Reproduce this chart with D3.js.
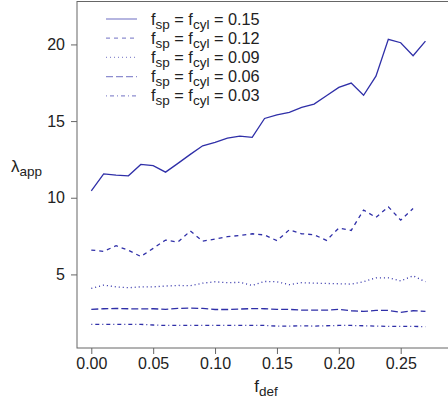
<!DOCTYPE html>
<html>
<head>
<meta charset="utf-8">
<script src="https://cdn.jsdelivr.net/npm/d3@7"></script>
<style>
  html, body { margin: 0; padding: 0; background: #fff; }
  svg { display: block; font-family: "Liberation Sans", Arial, Helvetica, sans-serif; }
</style>
</head>
<body>
<div id="chart"></div>
<script>
// Apparent wavelength versus defect fraction, one series per sphere/cylinder fraction
const fDef = [0.00, 0.01, 0.02, 0.03, 0.04, 0.05, 0.06, 0.07, 0.08, 0.09,
              0.10, 0.11, 0.12, 0.13, 0.14, 0.15, 0.16, 0.17, 0.18, 0.19,
              0.20, 0.21, 0.22, 0.23, 0.24, 0.25, 0.26, 0.27];

const lambda015 = [10.45, 11.56, 11.48, 11.43, 12.17, 12.09, 11.67, 12.24, 12.83, 13.39,
                   13.61, 13.89, 14.02, 13.94, 15.17, 15.40, 15.57, 15.89, 16.11, 16.65,
                   17.20, 17.48, 16.68, 17.93, 20.33, 20.11, 19.26, 20.22];
const lambda012 = [6.59, 6.50, 6.87, 6.57, 6.17, 6.70, 7.24, 7.11, 7.83, 7.17,
                   7.30, 7.46, 7.54, 7.65, 7.57, 7.20, 7.91, 7.65, 7.59, 7.22,
                   8.02, 7.87, 9.20, 8.72, 9.41, 8.54, 9.30];
const lambda009 = [4.09, 4.30, 4.19, 4.13, 4.19, 4.19, 4.24, 4.28, 4.26, 4.43,
                   4.52, 4.46, 4.48, 4.28, 4.54, 4.52, 4.33, 4.46, 4.43, 4.41,
                   4.39, 4.37, 4.52, 4.78, 4.78, 4.57, 4.91, 4.52];
const lambda006 = [2.72, 2.76, 2.78, 2.76, 2.75, 2.76, 2.72, 2.78, 2.80, 2.78,
                   2.71, 2.71, 2.74, 2.77, 2.76, 2.72, 2.72, 2.67, 2.67, 2.67,
                   2.72, 2.63, 2.59, 2.65, 2.65, 2.52, 2.63, 2.59];
const lambda003 = [1.74, 1.74, 1.74, 1.74, 1.74, 1.70, 1.67, 1.67, 1.67, 1.67,
                   1.67, 1.67, 1.67, 1.67, 1.67, 1.63, 1.63, 1.65, 1.63, 1.65,
                   1.67, 1.67, 1.65, 1.63, 1.61, 1.61, 1.61, 1.59];

const seriesLabels = ["0.15", "0.12", "0.09", "0.06", "0.03"];
const seriesValues = [lambda015, lambda012, lambda009, lambda006, lambda003];
const seriesDash = ["none", "4,4", "1,3", "7,3", "1,3,4,3"];

const xTicks = [0.00, 0.05, 0.10, 0.15, 0.20, 0.25];
const yTicks = [5, 10, 15, 20];

const W = 448, H = 411;
const lineColor = "#2f2fa8";
const axisColor = "#666";
const textColor = "#222";

const svg = d3.select("#chart").append("svg")
  .attr("width", W).attr("height", H);

const x = d3.scaleLinear().domain([0, 0.25]).range([91.3, 400.7]);
const y = d3.scaleLinear().domain([0.2, 22.8]).range([348, 1.5]);

const plotLeft = 77, plotTop = 1.5, plotBottom = 348, plotRight = W + 10;

// plot frame (extends past the right edge)
svg.append("rect")
  .attr("x", plotLeft).attr("y", plotTop)
  .attr("width", plotRight - plotLeft).attr("height", plotBottom - plotTop)
  .attr("fill", "none").attr("stroke", axisColor).attr("stroke-width", 1);

// axes
const xAxis = svg.append("g")
  .attr("transform", `translate(0,${plotBottom})`)
  .call(d3.axisBottom(x).tickValues(xTicks).tickFormat(d3.format(".2f"))
    .tickSizeInner(6).tickSizeOuter(0).tickPadding(4));
const yAxis = svg.append("g")
  .attr("transform", `translate(${plotLeft},0)`)
  .call(d3.axisLeft(y).tickValues(yTicks).tickFormat(d3.format("d"))
    .tickSizeInner(6).tickSizeOuter(0).tickPadding(6));

[xAxis, yAxis].forEach(g => {
  g.select(".domain").remove();
  g.selectAll(".tick line").attr("stroke", axisColor);
  g.selectAll(".tick text").attr("fill", textColor).attr("font-size", 16)
    .attr("font-family", "Liberation Sans, Arial, sans-serif");
});

// series lines
const line = d3.line()
  .x((d, i) => x(fDef[i]))
  .y(d => y(d));

svg.append("g").selectAll("path")
  .data(seriesValues)
  .join("path")
  .attr("d", d => line(d))
  .attr("fill", "none")
  .attr("stroke", lineColor)
  .attr("stroke-width", 1.3)
  .attr("stroke-dasharray", (d, i) => seriesDash[i]);

// legend
const legend = svg.append("g");
const legendRowY = i => 19 + i * 19.2;
seriesLabels.forEach((lab, i) => {
  const yy = legendRowY(i);
  legend.append("line")
    .attr("x1", 106).attr("x2", 137).attr("y1", yy).attr("y2", yy)
    .attr("stroke", lineColor).attr("stroke-opacity", 0.55)
    .attr("stroke-width", 1.3)
    .attr("stroke-dasharray", seriesDash[i]);
  const t = legend.append("text")
    .attr("x", 151).attr("y", yy + 5.5)
    .attr("font-size", 16.3).attr("fill", textColor);
  t.append("tspan").text("f");
  t.append("tspan").attr("font-size", 13.5).attr("dy", 4).text("sp");
  t.append("tspan").attr("dy", -4).text(" = f");
  t.append("tspan").attr("font-size", 13.5).attr("dy", 4).text("cyl");
  t.append("tspan").attr("dy", -4).text(" = " + lab);
});

// axis titles
const yt = svg.append("text").attr("x", 11).attr("y", 172)
  .attr("font-size", 17).attr("fill", textColor);
yt.append("tspan").text("λ");
yt.append("tspan").attr("font-size", 13.5).attr("dy", 4).text("app");

const xt = svg.append("text").attr("x", 266).attr("y", 392)
  .attr("text-anchor", "middle").attr("font-size", 17).attr("fill", textColor);
xt.append("tspan").text("f");
xt.append("tspan").attr("font-size", 13.5).attr("dy", 4).text("def");
</script>
</body>
</html>
